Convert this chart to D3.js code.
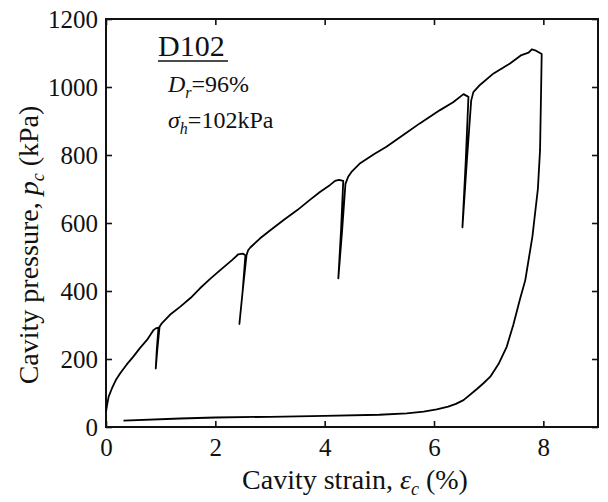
<!DOCTYPE html>
<html>
<head>
<meta charset="utf-8">
<script src="https://cdn.jsdelivr.net/npm/d3@7"></script>
<style>
  body { margin: 0; background: #fff; }
  svg, text { font-family: "Liberation Serif", "Times New Roman", serif; fill: #111; }
</style>
</head>
<body>
<svg class="chart"></svg>
<script>
// cavity strain (%) and cavity pressure (kPa), in test order
const strain = [
    0, 0.02, 0.05, 0.11, 0.18, 0.26, 0.38, 0.5, 0.62, 0.75, 0.87, 0.91, 0.96,
    0.93, 0.91, 0.94, 0.98,
    1.02, 1.17, 1.36, 1.55, 1.72, 1.9, 2.1, 2.3, 2.42, 2.5, 2.55,
    2.5, 2.44, 2.5, 2.57,
    2.6, 2.64, 2.82, 3.0, 3.25, 3.5, 3.73, 3.92, 4.1, 4.19, 4.26, 4.34,
    4.3, 4.25, 4.32, 4.38,
    4.43, 4.5, 4.65, 4.9, 5.13, 5.45, 5.74, 6.11, 6.35, 6.54, 6.63,
    6.58, 6.52, 6.6, 6.68,
    6.72, 6.84, 7.09, 7.39, 7.6, 7.73, 7.79, 7.85, 7.97,
    7.96, 7.94, 7.9, 7.8, 7.67, 7.57, 7.45, 7.33, 7.18, 7.03, 6.9, 6.78, 6.54,
    6.4, 6.26, 6.05, 5.81, 5.5, 5.0, 4.0, 3.0, 2.0, 1.36, 0.32
];
const pressure = [
    45, 65, 90, 114, 138, 158, 184, 207, 232, 256, 285, 290, 292,
    230, 172, 230, 295,
    305, 330, 354, 380, 408, 435, 463, 490, 508, 510, 505,
    400, 303, 400, 505,
    520, 528, 555, 578, 609, 638, 668, 692, 712, 724, 727, 724,
    580, 437, 580, 715,
    736, 752, 776, 802, 824, 860, 893, 932, 955, 979, 971,
    780, 587, 780, 960,
    985, 1006, 1040, 1069, 1094, 1101, 1111, 1108, 1097,
    1000, 815, 700, 560, 432, 374, 300, 236, 185, 148, 128, 111, 79,
    68, 60, 52, 45, 40, 36, 33, 30, 28, 25, 19
];
const xTicks = [0, 2, 4, 6, 8];
const yTicks = [0, 200, 400, 600, 800, 1000, 1200];

const width = 608, height = 502;
const margin = {top: 19, right: 10, bottom: 75, left: 106};
const w = width - margin.left - margin.right,
      h = height - margin.top - margin.bottom;

const svg = d3.select(".chart")
    .attr("width", width)
    .attr("height", height);

const x = d3.scaleLinear().domain([0, 9]).range([0, w]);
const y = d3.scaleLinear().domain([0, 1200]).range([h, 0]);

const g = svg.append("g")
    .attr("transform", "translate(" + margin.left + "," + margin.top + ")");

// axes with inward ticks, mirrored on top and right
const fmt = d3.format("d");
const tick = 6;
const xBottom = g.append("g").attr("transform", "translate(0," + h + ")")
    .call(d3.axisBottom(x).tickValues(xTicks).tickSizeInner(-tick).tickSizeOuter(0).tickPadding(9).tickFormat(fmt));
const xTop = g.append("g")
    .call(d3.axisTop(x).tickValues(xTicks).tickSizeInner(-tick).tickSizeOuter(0).tickFormat(""));
const yLeft = g.append("g")
    .call(d3.axisLeft(y).tickValues(yTicks).tickSizeInner(-tick).tickSizeOuter(0).tickPadding(8).tickFormat(fmt));
const yRight = g.append("g").attr("transform", "translate(" + w + ",0)")
    .call(d3.axisRight(y).tickValues(yTicks).tickSizeInner(-tick).tickSizeOuter(0).tickFormat(""));

[xBottom, xTop, yLeft, yRight].forEach(a => {
    a.attr("font-family", null);
    a.select(".domain").remove();
    a.selectAll("line").attr("stroke", "#111").attr("stroke-width", 1.6);
    a.selectAll("text").style("font-size", "25px");
});
xBottom.selectAll("text").attr("dy", "0.8em");

g.append("rect")
    .attr("width", w).attr("height", h)
    .attr("fill", "none").attr("stroke", "#111").attr("stroke-width", 2);

// the curve
const line = d3.line()
    .x((d, i) => x(strain[i]))
    .y((d, i) => y(pressure[i]));

g.append("path")
    .datum(strain)
    .attr("d", line)
    .attr("fill", "none")
    .attr("stroke", "#000")
    .attr("stroke-width", 1.8)
    .attr("stroke-linejoin", "round");

// axis titles
const xt = svg.append("text")
    .attr("x", margin.left + w / 2 + 3).attr("y", 489)
    .attr("text-anchor", "middle").style("font-size", "28px");
xt.append("tspan").text("Cavity strain, ");
xt.append("tspan").text("ε").style("font-style", "italic");
xt.append("tspan").text("c").style("font-style", "italic").style("font-size", "18px").attr("dy", 6);
xt.append("tspan").text(" (%)").attr("dy", -6);

const yt = svg.append("text")
    .attr("transform", "translate(38," + 245 + ") rotate(-90)")
    .attr("text-anchor", "middle").style("font-size", "28px");
yt.append("tspan").text("Cavity pressure, ");
yt.append("tspan").text("p").style("font-style", "italic");
yt.append("tspan").text("c").style("font-style", "italic").style("font-size", "18px").attr("dy", 6);
yt.append("tspan").text(" (kPa)").attr("dy", -6);

// annotation
svg.append("text").attr("x", 158).attr("y", 56)
    .style("font-size", "30px").text("D102");
svg.append("line")
    .attr("x1", 158).attr("x2", 228).attr("y1", 61).attr("y2", 61)
    .attr("stroke", "#111").attr("stroke-width", 1.6);

const a1 = svg.append("text").attr("x", 168).attr("y", 92).style("font-size", "24px");
a1.append("tspan").text("D").style("font-style", "italic");
a1.append("tspan").text("r").style("font-style", "italic").style("font-size", "16px").attr("dy", 6);
a1.append("tspan").text("=96%").attr("dy", -6);

const a2 = svg.append("text").attr("x", 168).attr("y", 128).style("font-size", "24px");
a2.append("tspan").text("σ").style("font-style", "italic");
a2.append("tspan").text("h").style("font-style", "italic").style("font-size", "16px").attr("dy", 6);
a2.append("tspan").text("=102kPa").attr("dy", -6);
</script>
</body>
</html>
